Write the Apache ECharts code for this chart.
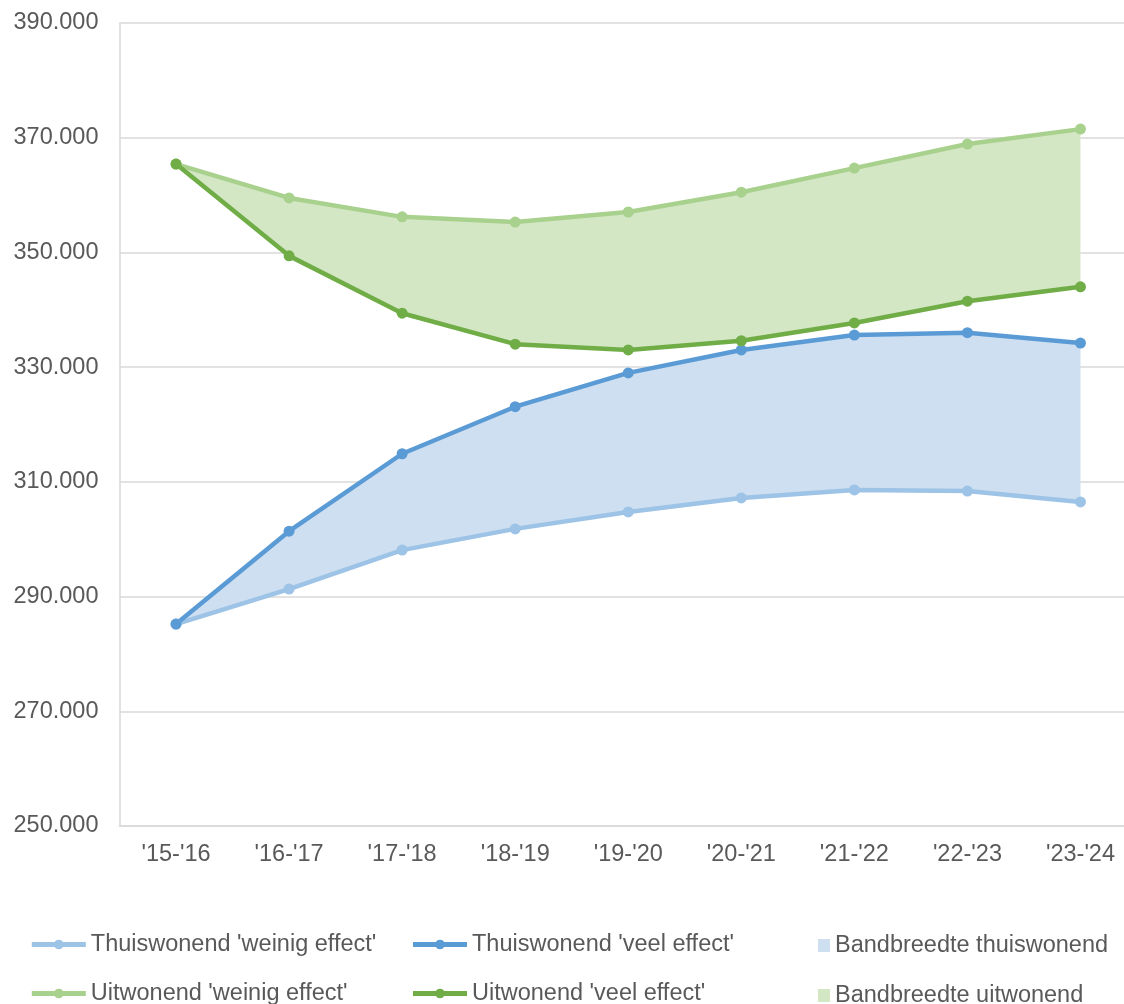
<!DOCTYPE html>
<html>
<head>
<meta charset="utf-8">
<script src="https://cdn.jsdelivr.net/npm/echarts@6/dist/echarts.min.js"></script>
<style>
html,body{margin:0;padding:0;background:#fff;overflow:hidden;}
#chart{width:1137px;height:1060px;}
</style>
</head>
<body>
<div id="chart"></div>
<script>
const categories = ["'15-'16","'16-'17","'17-'18","'18-'19","'19-'20","'20-'21","'21-'22","'22-'23","'23-'24"];
const thuisWeinig = [285.2, 291.3, 298.1, 301.8, 304.75, 307.2, 308.6, 308.4, 306.5];
const thuisVeel   = [285.2, 301.4, 314.9, 323.1, 329.0, 333.0, 335.6, 336.0, 334.2];
const uitWeinig   = [365.4, 359.5, 356.2, 355.3, 357.05, 360.5, 364.7, 368.9, 371.5];
const uitVeel     = [365.4, 349.4, 339.4, 334.0, 333.0, 334.6, 337.7, 341.5, 344.0];
const yTicks = [250, 270, 290, 310, 330, 350, 370, 390];

const names = {
  tw: "Thuiswonend 'weinig effect'",
  tv: "Thuiswonend 'veel effect'",
  bt: "Bandbreedte thuiswonend",
  uw: "Uitwonend 'weinig effect'",
  uv: "Uitwonend 'veel effect'",
  bu: "Bandbreedte uitwonend"
};
const colors = {
  tw: '#9dc3e6', tv: '#5b9bd5', bt: '#cddff0',
  uw: '#a9d18e', uv: '#70ad47', bu: '#d4e7c5'
};

const diff = (a, b) => a.map((v, i) => +(v - b[i]).toFixed(3));
const font = '"Liberation Sans", Arial, sans-serif';
const textCol = '#595959';

function lineSeries(key, data) {
  return {
    name: names[key], type: 'line', data: data,
    symbol: 'circle', symbolSize: 11,
    lineStyle: { width: 4.5, color: colors[key] },
    itemStyle: { color: colors[key] },
    z: 5
  };
}

const chart = echarts.init(document.getElementById('chart'), null, { renderer: 'canvas' });
const legendText = { color: textCol, fontSize: 23.5, fontFamily: font };
const lineLegend = (left, data) => ({
  orient: 'vertical', left: left, top: 932.5, itemWidth: 54, itemHeight: 12, itemGap: 25,
  padding: 0, lineStyle: { width: 5 }, textStyle: legendText, data: data
});
chart.setOption({
  animation: false,
  textStyle: { fontFamily: font },
  grid: { left: 119.5, right: 0, top: 23, height: 803, containLabel: false },
  xAxis: {
    type: 'category', data: categories, boundaryGap: true,
    axisLine: { show: true, lineStyle: { color: '#d9d9d9', width: 1.5 } },
    axisTick: { show: false },
    axisLabel: { color: textCol, fontSize: 23.5, fontFamily: font, margin: 17 }
  },
  yAxis: {
    type: 'value', min: yTicks[0], max: yTicks[yTicks.length - 1], interval: yTicks[1] - yTicks[0],
    axisLine: { show: true, lineStyle: { color: '#d9d9d9', width: 1.5 } },
    axisTick: { show: false },
    splitLine: { lineStyle: { color: '#d9d9d9', width: 1.5 } },
    axisLabel: {
      color: textCol, fontSize: 23.5, fontFamily: font, margin: 21,
      formatter: v => v.toFixed(3)
    }
  },
  legend: [
    lineLegend(29.3, [names.tw, names.uw]),
    lineLegend(410.5, [names.tv, names.uv]),
    { orient: 'vertical', left: 818, top: 933.5, itemWidth: 12, itemHeight: 13, itemGap: 26,
      padding: 0, textStyle: legendText,
      data: [{ name: names.bt, icon: 'rect' }, { name: names.bu, icon: 'rect' }] }
  ],
  series: [
    { name: 'baseThuis', type: 'line', stack: 'thuis', data: thuisWeinig,
      symbol: 'none', lineStyle: { opacity: 0 }, silent: true, z: 1 },
    { name: names.bt, type: 'line', stack: 'thuis', data: diff(thuisVeel, thuisWeinig),
      symbol: 'none', lineStyle: { opacity: 0 }, itemStyle: { color: colors.bt },
      areaStyle: { color: colors.bt, opacity: 1 }, z: 1 },
    { name: 'baseUit', type: 'line', stack: 'uit', data: uitVeel,
      symbol: 'none', lineStyle: { opacity: 0 }, silent: true, z: 1 },
    { name: names.bu, type: 'line', stack: 'uit', data: diff(uitWeinig, uitVeel),
      symbol: 'none', lineStyle: { opacity: 0 }, itemStyle: { color: colors.bu },
      areaStyle: { color: colors.bu, opacity: 1 }, z: 1 },
    lineSeries('tw', thuisWeinig),
    lineSeries('uw', uitWeinig),
    lineSeries('tv', thuisVeel),
    lineSeries('uv', uitVeel)
  ]
});
</script>
</body>
</html>
